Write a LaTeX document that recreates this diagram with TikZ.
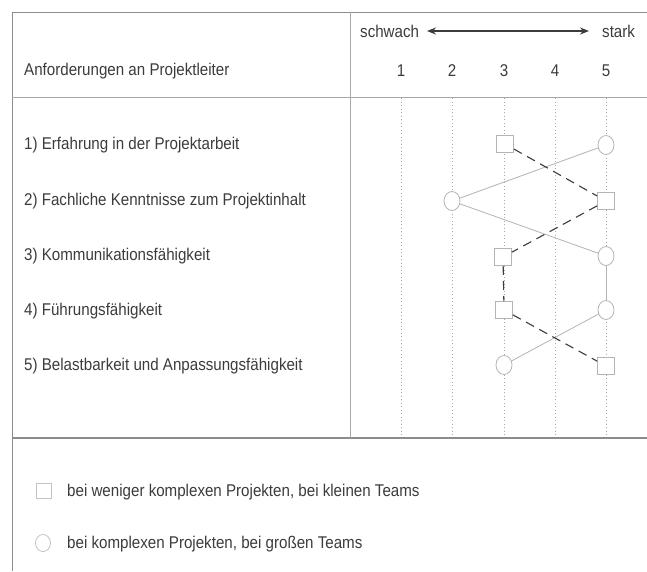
\documentclass[tikz,border=0pt]{standalone}
\usepackage{fontspec}
\setmainfont{Liberation Sans}[FakeStretch=0.89]
\usetikzlibrary{shapes.geometric,arrows.meta}
\definecolor{ink}{HTML}{3C3C3C}
\definecolor{frame}{HTML}{8C8C8C}
\definecolor{grid}{HTML}{A8A8A8}
\definecolor{mark}{HTML}{B4B4B4}
\tikzset{
  lbl/.style={font=\fontsize{17}{19}\selectfont, text=ink, inner sep=0pt},
  rowlbl/.style={lbl, anchor=west},
  numlbl/.style={lbl, anchor=center},
  sq/.style={draw=mark, fill=white, line width=0.8pt, rectangle, minimum size=17pt, inner sep=0pt},
  el/.style={draw=mark, fill=white, line width=0.8pt, ellipse, minimum width=16pt, minimum height=19pt, inner sep=0pt},
  sqleg/.style={sq, draw=mark!80, minimum size=15pt},
  elleg/.style={el, draw=mark!80, minimum width=15pt, minimum height=17pt},
  framel/.style={draw=frame, line width=0.8pt},
  gridl/.style={draw=grid, line width=0.5pt, dash pattern=on 1pt off 2.5pt},
  weaklink/.style={draw=mark, line width=0.8pt},
  stronglink/.style={draw=ink, line width=1.1pt, dash pattern=on 9pt off 6pt},
}
\begin{document}
\begin{tikzpicture}[x=1pt,y=-1pt]
\useasboundingbox (0,0) rectangle (647,571);
\fill[white] (0,0) rectangle (647,571);

% table frame
\draw[framel] (647,12) -- (12,12) -- (12,571);
\draw[framel, draw=grid] (12,97) -- (647,97);
\draw[framel, line width=1.1pt] (12,438) -- (647,438);
\draw[framel, draw=grid] (350,12) -- (350,438);

% scale columns
\foreach \x in {401,452,504,555,606}
  \draw[gridl] (\x,98) -- (\x,437);

% header
\node[lbl, anchor=west] (schwach) at (360,31) {schwach};
\node[lbl, anchor=west] (stark) at (602,31) {stark};
\coordinate (aL) at (427,31);
\coordinate (aR) at (589,31);
\draw[ink, line width=1.4pt, {Stealth[length=9pt,width=7pt]}-{Stealth[length=9pt,width=7pt]}] (aL) -- (aR);
\node[rowlbl] (head) at (24,71) {Anforderungen an Projektleiter};
\node[numlbl] (n1) at (401,71) {1};
\node[numlbl] (n2) at (452,71) {2};
\node[numlbl] (n3) at (504,71) {3};
\node[numlbl] (n4) at (555,71) {4};
\node[numlbl] (n5) at (606,71) {5};

% requirement rows
\node[rowlbl] (r1) at (24,145) {1) Erfahrung in der Projektarbeit};
\node[rowlbl] (r2) at (24,201) {2) Fachliche Kenntnisse zum Projektinhalt};
\node[rowlbl] (r3) at (24,256) {3) Kommunikationsfähigkeit};
\node[rowlbl] (r4) at (24,311) {4) Führungsfähigkeit};
\node[rowlbl] (r5) at (24,366) {5) Belastbarkeit und Anpassungsfähigkeit};

% profile: large, complex projects (ellipses, solid)
\node[el] (c1) at (606,145) {};
\node[el] (c2) at (452,201) {};
\node[el] (c3) at (606,256) {};
\node[el] (c4) at (606,310) {};
\node[el] (c5) at (504,365) {};
\draw[weaklink] (c1) -- (c2);
\draw[weaklink] (c2) -- (c3);
\draw[weaklink] (c3) -- (c4);
\draw[weaklink] (c4) -- (c5);

% profile: small, less complex projects (squares, dashed)
\node[sq] (s1) at (505,144) {};
\node[sq] (s2) at (606,201) {};
\node[sq] (s3) at (503,257) {};
\node[sq] (s4) at (504,310) {};
\node[sq] (s5) at (606,366) {};
\draw[stronglink] (s1) -- (s2);
\draw[stronglink] (s2) -- (s3);
\draw[stronglink] (s3) -- (s4);
\draw[stronglink] (s4) -- (s5);

% legend
\node[sqleg] (ls) at (44,491) {};
\node[rowlbl] (lst) at (67,492) {bei weniger komplexen Projekten, bei kleinen Teams};
\node[elleg] (lc) at (43,543) {};
\node[rowlbl] (lct) at (67,544) {bei komplexen Projekten, bei großen Teams};
\end{tikzpicture}
\end{document}
